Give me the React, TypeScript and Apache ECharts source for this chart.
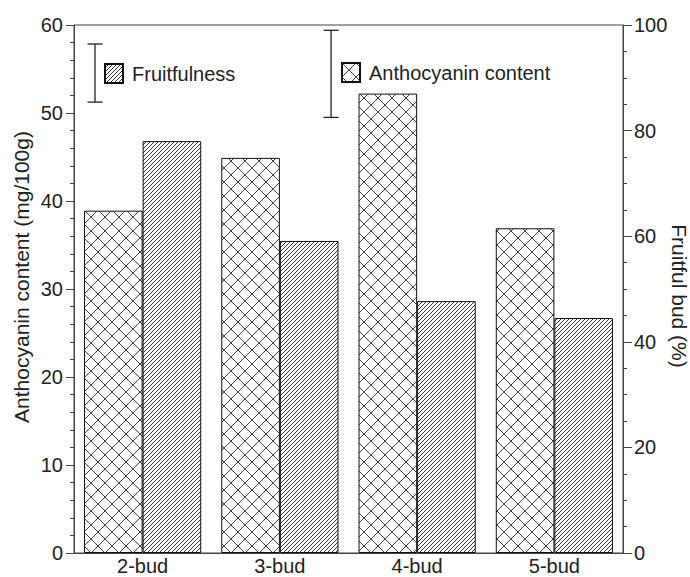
import React, { useEffect, useRef } from "react";
import * as echarts from "echarts";

const categories = ["2-bud", "3-bud", "4-bud", "5-bud"];
const anthocyanin = [38.9, 44.9, 52.2, 36.9];
const fruitfulness = [78.0, 59.1, 47.7, 44.5];
// LSD bars: [position on a 0-4 category scale, low, high]
const fruitLsd = [[0.153, 85.4, 96.4]];
const anthoLsd = [[1.873, 49.5, 59.4]];

const FONT = "'Liberation Sans', Arial, sans-serif";

function makeHatch(): HTMLCanvasElement {
  const s = 4;
  const c = document.createElement("canvas");
  c.width = s;
  c.height = s;
  const ctx = c.getContext("2d")!;
  ctx.fillStyle = "#fff";
  ctx.fillRect(0, 0, s, s);
  ctx.strokeStyle = "#3a3a3a";
  ctx.lineWidth = 1;
  ctx.beginPath();
  ctx.moveTo(0, s);
  ctx.lineTo(s, 0);
  ctx.moveTo(-1, 1);
  ctx.lineTo(1, -1);
  ctx.moveTo(s - 1, s + 1);
  ctx.lineTo(s + 1, s - 1);
  ctx.stroke();
  return c;
}

function makeCross(): HTMLCanvasElement {
  const s = 14;
  const c = document.createElement("canvas");
  c.width = s;
  c.height = s;
  const ctx = c.getContext("2d")!;
  ctx.fillStyle = "#fff";
  ctx.fillRect(0, 0, s, s);
  ctx.strokeStyle = "#444";
  ctx.lineWidth = 1;
  ctx.beginPath();
  ctx.moveTo(0, 0);
  ctx.lineTo(s, s);
  ctx.moveTo(0, s);
  ctx.lineTo(s, 0);
  ctx.stroke();
  return c;
}

export default function App() {
  const ref = useRef<HTMLDivElement>(null);
  useEffect(() => {
    if (!ref.current) return;
    const chart = echarts.init(ref.current, undefined, { renderer: "svg" });
    const hatch = { image: makeHatch(), repeat: "repeat" };
    const cross = { image: makeCross(), repeat: "repeat" };
    const axisColor = "#444";
    const textColor = "#222";
    const renderLsd = (params: any, api: any) => {
      const x = api.value(0);
      const lo = api.coord([x, api.value(1)]);
      const hi = api.coord([x, api.value(2)]);
      const half = 7.5;
      const style = { stroke: "#222", lineWidth: 1.3 };
      return {
        type: "group",
        children: [
          { type: "line", shape: { x1: lo[0], y1: lo[1], x2: hi[0], y2: hi[1] }, style },
          { type: "line", shape: { x1: lo[0] - half, y1: lo[1], x2: lo[0] + half, y2: lo[1] }, style },
          { type: "line", shape: { x1: hi[0] - half, y1: hi[1], x2: hi[0] + half, y2: hi[1] }, style },
        ],
      };
    };
    const legendCommon = {
      orient: "horizontal",
      padding: 0,
      icon: "rect",
      itemWidth: 18,
      itemHeight: 19,
      selectedMode: false,
      textStyle: { fontFamily: FONT, fontSize: 20, color: textColor, padding: [0, 0, 0, 4] },
    };
    chart.setOption({
      animation: false,
      backgroundColor: "#fff",
      grid: {
        left: 74,
        right: 67,
        top: 25,
        bottom: 24,
        outerBoundsMode: "none",
        containLabel: false,
        show: true,
        borderColor: axisColor,
        borderWidth: 1,
        backgroundColor: "transparent",
      },
      legend: [
        { ...legendCommon, data: ["Fruitfulness"], left: 104, top: 63 },
        { ...legendCommon, data: ["Anthocyanin content"], left: 341, top: 62 },
      ],
      xAxis: [
        {
          type: "category",
          data: categories,
          axisLine: { lineStyle: { color: axisColor, width: 1 } },
          axisTick: { show: false },
          axisLabel: { fontFamily: FONT, fontSize: 20, lineHeight: 20, color: textColor, margin: 3 },
          splitLine: { show: false },
        },
        {
          type: "value",
          min: 0,
          max: 4,
          show: false,
          position: "bottom",
        },
      ],
      yAxis: [
        {
          type: "value",
          min: 0,
          max: 60,
          interval: 10,
          position: "left",
          name: "Anthocyanin content (mg/100g)",
          nameLocation: "middle",
          nameGap: 42,
          nameMoveOverlap: false,
          nameTextStyle: { fontFamily: FONT, fontSize: 21, color: textColor, padding: [0, 0, 0, 24] },
          axisLine: { show: true, lineStyle: { color: axisColor, width: 1 } },
          axisTick: { show: true, length: 8, lineStyle: { color: axisColor } },
          minorTick: { show: true, splitNumber: 5, length: 4, lineStyle: { color: axisColor } },
          axisLabel: { fontFamily: FONT, fontSize: 20, color: textColor, margin: 11 },
          splitLine: { show: false },
        },
        {
          type: "value",
          min: 0,
          max: 100,
          interval: 20,
          position: "right",
          name: "Fruitful bud (%)",
          nameLocation: "middle",
          nameRotate: -90,
          nameGap: 46,
          nameMoveOverlap: false,
          nameTextStyle: { fontFamily: FONT, fontSize: 21, color: textColor, padding: [0, 0, 0, 14] },
          axisLine: { show: true, lineStyle: { color: axisColor, width: 1 } },
          axisTick: { show: true, length: 9, lineStyle: { color: axisColor } },
          minorTick: { show: true, splitNumber: 4, length: 4, lineStyle: { color: axisColor } },
          axisLabel: { fontFamily: FONT, fontSize: 20, color: textColor, margin: 11 },
          splitLine: { show: false },
        },
      ],
      series: [
        {
          name: "Anthocyanin content",
          type: "bar",
          xAxisIndex: 0,
          yAxisIndex: 0,
          data: anthocyanin,
          barGap: "0%",
          barCategoryGap: "14.6%",
          itemStyle: { color: cross, borderColor: "#111", borderWidth: 1 },
        },
        {
          name: "Fruitfulness",
          type: "bar",
          xAxisIndex: 0,
          yAxisIndex: 1,
          data: fruitfulness,
          barGap: "0%",
          barCategoryGap: "14.6%",
          itemStyle: { color: hatch, borderColor: "#111", borderWidth: 1 },
        },
        {
          name: "Fruitfulness LSD",
          type: "custom",
          xAxisIndex: 1,
          yAxisIndex: 1,
          encode: { x: 0, y: [1, 2] },
          data: fruitLsd,
          renderItem: renderLsd,
          silent: true,
          z: 5,
        },
        {
          name: "Anthocyanin LSD",
          type: "custom",
          xAxisIndex: 1,
          yAxisIndex: 0,
          encode: { x: 0, y: [1, 2] },
          data: anthoLsd,
          renderItem: renderLsd,
          silent: true,
          z: 5,
        },
      ],
    });
    return () => chart.dispose();
  }, []);
  return (
    <div
      ref={ref}
      style={{ position: "fixed", left: 0, top: 0, width: 690, height: 577, background: "#fff" }}
    />
  );
}
